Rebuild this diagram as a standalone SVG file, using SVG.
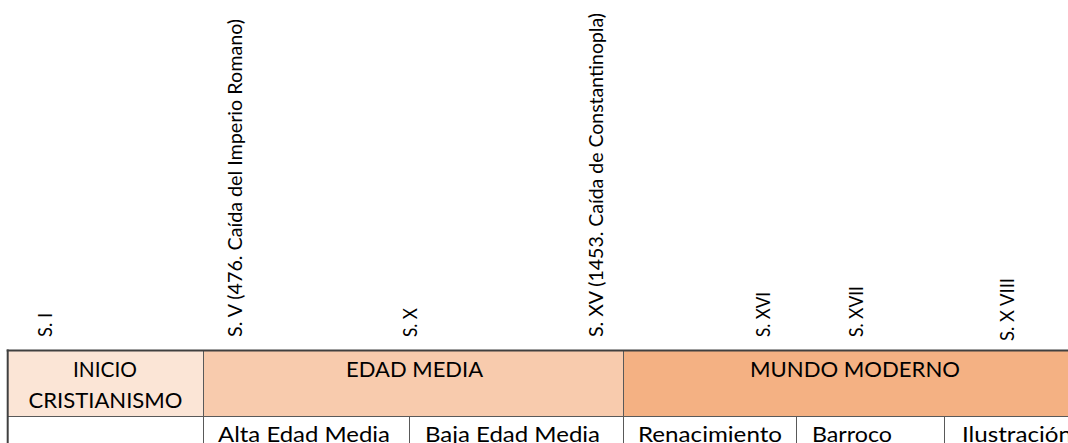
<svg xmlns="http://www.w3.org/2000/svg" width="1068" height="443" viewBox="0 0 1068 443">
<style>
.lbl{font-family:Lato,"Open Sans","Liberation Sans",sans-serif;font-size:19.5px;fill:#000}
.t{font-family:Lato,"Open Sans","Liberation Sans",sans-serif;font-size:21px;fill:#000}
.c{stroke:#595959;stroke-width:1}
.mid{text-anchor:middle}
</style>
<rect width="1068" height="443" fill="#fff"/>
<g id="centuries">
<text class="lbl" transform="translate(51.7,337) rotate(-90)" textLength="24" lengthAdjust="spacingAndGlyphs">S. I</text>
<text class="lbl" transform="translate(241.7,337) rotate(-90)" textLength="318" lengthAdjust="spacingAndGlyphs">S. V (476. Caída del Imperio Romano)</text>
<text class="lbl" transform="translate(416.7,337) rotate(-90)" textLength="29" lengthAdjust="spacingAndGlyphs">S. X</text>
<text class="lbl" transform="translate(603,337) rotate(-90)" textLength="324" lengthAdjust="spacingAndGlyphs">S. XV (1453. Caída de Constantinopla)</text>
<text class="lbl" transform="translate(770,337) rotate(-90)" textLength="45" lengthAdjust="spacingAndGlyphs">S. XVI</text>
<text class="lbl" transform="translate(863.3,337) rotate(-90)" textLength="51" lengthAdjust="spacingAndGlyphs">S. XVII</text>
<text class="lbl" transform="translate(1013.8,341) rotate(-90)" textLength="63" lengthAdjust="spacingAndGlyphs">S. X VIII</text>
</g>
<g id="inicio-cristianismo">
<rect class="c" x="7.5" y="350.5" width="196" height="66" fill="#FBE5D6"/>
<text class="t mid" x="105" y="377" textLength="64" lengthAdjust="spacingAndGlyphs">INICIO</text>
<text class="t mid" x="105.5" y="408" textLength="154" lengthAdjust="spacingAndGlyphs">CRISTIANISMO</text>
</g>
<g id="edad-media">
<rect class="c" x="203.5" y="350.5" width="420" height="66" fill="#F8CBAD"/>
<text class="t mid" x="414.6" y="377" textLength="137" lengthAdjust="spacingAndGlyphs">EDAD MEDIA</text>
</g>
<g id="mundo-moderno">
<rect class="c" x="623.5" y="350.5" width="470" height="66" fill="#F4B183"/>
<text class="t mid" x="855" y="377" textLength="210" lengthAdjust="spacingAndGlyphs">MUNDO MODERNO</text>
</g>
<g id="empty-cell">
<rect class="c" x="7.5" y="416.5" width="196" height="40" fill="#fff"/>
</g>
<g id="alta-edad-media">
<rect class="c" x="203.5" y="416.5" width="206" height="40" fill="#fff"/>
<text class="t" x="218" y="442" textLength="172" lengthAdjust="spacingAndGlyphs">Alta Edad Media</text>
</g>
<g id="baja-edad-media">
<rect class="c" x="409.5" y="416.5" width="214" height="40" fill="#fff"/>
<text class="t" x="425" y="442" textLength="175" lengthAdjust="spacingAndGlyphs">Baja Edad Media</text>
</g>
<g id="renacimiento">
<rect class="c" x="623.5" y="416.5" width="173" height="40" fill="#fff"/>
<text class="t" x="638" y="442" textLength="144" lengthAdjust="spacingAndGlyphs">Renacimiento</text>
</g>
<g id="barroco">
<rect class="c" x="796.5" y="416.5" width="148" height="40" fill="#fff"/>
<text class="t" x="812" y="442" textLength="80" lengthAdjust="spacingAndGlyphs">Barroco</text>
</g>
<g id="ilustracion">
<rect class="c" x="944.5" y="416.5" width="150" height="40" fill="#fff"/>
<text class="t" x="962" y="442" textLength="110" lengthAdjust="spacingAndGlyphs">Ilustración</text>
</g>
<g id="connectors">
<line x1="7.7" y1="349.5" x2="7.7" y2="443" stroke="#404040" stroke-width="2"/>
<line x1="6.7" y1="350.5" x2="1068" y2="350.5" stroke="#404040" stroke-width="2"/>
</g>
</svg>
